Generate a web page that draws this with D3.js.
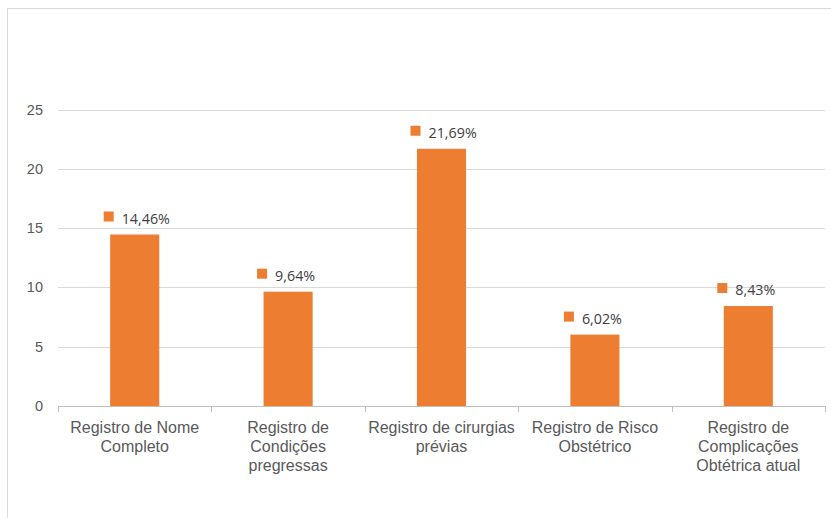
<!DOCTYPE html>
<html lang="pt">
<head>
<meta charset="UTF-8">
<title>Registros</title>
<style>
  body, html { margin: 0; padding: 0; background: #fff; }
  svg { display: block; }
</style>
</head>
<body>
<svg id="svg" width="831" height="518"></svg>
<script src="https://d3js.org/d3.v7.min.js"></script>
<script>
  // chart data
  const categories = [
    ['Registro de Nome', 'Completo'],
    ['Registro de', 'Condições', 'pregressas'],
    ['Registro de cirurgias', 'prévias'],
    ['Registro de Risco', 'Obstétrico'],
    ['Registro de', 'Complicações', 'Obtétrica atual']
  ]
  const values = [14.46, 9.64, 21.69, 6.02, 8.43]
  const valueLabels = ['14,46%', '9,64%', '21,69%', '6,02%', '8,43%']
  const yTicks = [0, 5, 10, 15, 20, 25]

  const svg = d3.select('#svg')
  const barColor = '#ED7D31'
  const textColor = '#595959'

  // chart frame (runs off the right/bottom edge)
  svg.append('rect')
    .attr('x', 7.5).attr('y', 8.5)
    .attr('width', 840).attr('height', 530)
    .attr('fill', 'none')
    .attr('stroke', '#d9d9d9')

  const plotLeft = 58, plotRight = 825, plotTop = 109.5, plotBottom = 406

  const x = d3.scaleBand()
    .domain(d3.range(values.length))
    .range([plotLeft, plotRight])
    .paddingInner(0.68)
    .paddingOuter(0.34)

  const y = d3.scaleLinear()
    .domain([0, 25])
    .range([plotBottom, plotTop])

  // gridlines
  svg.append('g')
    .selectAll('line')
    .data(yTicks.filter(d => d > 0))
    .join('line')
    .attr('x1', plotLeft).attr('x2', plotRight)
    .attr('y1', d => Math.round(y(d)) + 0.5)
    .attr('y2', d => Math.round(y(d)) + 0.5)
    .attr('stroke', '#d9d9d9')

  // y tick labels
  svg.append('g')
    .selectAll('text')
    .data(yTicks)
    .join('text')
    .attr('x', 43)
    .attr('y', d => y(d) + 5)
    .attr('text-anchor', 'end')
    .attr('font-family', 'Liberation Sans, Arial, sans-serif')
    .attr('font-size', 14.5)
    .attr('fill', textColor)
    .text(d => d)

  // bars
  svg.append('g')
    .selectAll('rect')
    .data(values)
    .join('rect')
    .attr('x', (d, i) => x(i))
    .attr('y', d => y(d))
    .attr('width', x.bandwidth())
    .attr('height', d => y(0) - y(d))
    .attr('fill', barColor)

  // x axis line and category boundary ticks
  svg.append('line')
    .attr('x1', plotLeft).attr('x2', plotRight)
    .attr('y1', plotBottom + 0.5).attr('y2', plotBottom + 0.5)
    .attr('stroke', '#bfbfbf')
  const bandStep = (plotRight - plotLeft) / values.length
  svg.append('g')
    .selectAll('line')
    .data(d3.range(values.length + 1))
    .join('line')
    .attr('x1', i => Math.round(plotLeft + i * bandStep) + 0.5)
    .attr('x2', i => Math.round(plotLeft + i * bandStep) + 0.5)
    .attr('y1', plotBottom).attr('y2', plotBottom + 6)
    .attr('stroke', '#bfbfbf')

  // value labels with legend-key square
  const lab = svg.append('g')
    .selectAll('g')
    .data(values)
    .join('g')
    .attr('transform', (d, i) => `translate(${x(i) + x.bandwidth() / 2},${y(d) - 11})`)
  lab.append('rect')
    .attr('x', -31).attr('y', -12)
    .attr('width', 10).attr('height', 10)
    .attr('fill', barColor)
  lab.append('text')
    .attr('x', -13).attr('y', 0)
    .attr('font-family', 'Open Sans, Liberation Sans, sans-serif')
    .attr('font-size', 14.3)
    .attr('fill', '#404040')
    .text((d, i) => valueLabels[i])

  // category labels
  const cat = svg.append('g')
    .selectAll('text')
    .data(categories)
    .join('text')
    .attr('x', (d, i) => x(i) + x.bandwidth() / 2)
    .attr('y', 433)
    .attr('text-anchor', 'middle')
    .attr('font-family', 'Liberation Sans, Arial, sans-serif')
    .attr('font-size', 16)
    .attr('fill', textColor)
  cat.selectAll('tspan')
    .data(d => d)
    .join('tspan')
    .attr('x', function () { return d3.select(this.parentNode).attr('x') })
    .attr('dy', (d, i) => i === 0 ? 0 : 19)
    .text(d => d)
</script>
</body>
</html>
